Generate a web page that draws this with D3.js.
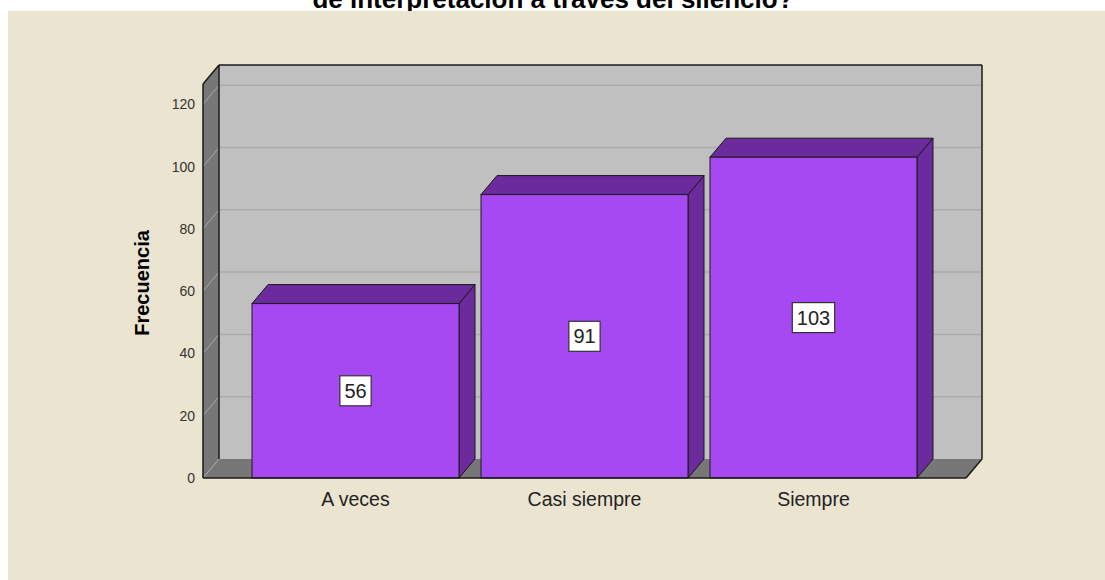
<!DOCTYPE html>
<html>
<head>
<meta charset="utf-8">
<script src="https://cdn.jsdelivr.net/npm/d3@7"></script>
<style>
  html, body { margin: 0; padding: 0; background: #ffffff; }
  svg { display: block; }
</style>
</head>
<body>
<svg id="chart" width="1105" height="580"></svg>
<script>
// Frequency chart: responses per category
const categories = ["A veces", "Casi siempre", "Siempre"];
const frequencies = [56, 91, 103];
const yTicks = [0, 20, 40, 60, 80, 100, 120];
const titleText = "de interpretación a través del silencio?";
const yAxisTitle = "Frecuencia";

(function () {
const svg = d3.select("#chart");
const W = 1105, H = 580;

// Pseudo-3D depth offset
const DX = 16, DY = -19;

// Plot frame (front plane)
const plotLeft = 203, plotRight = 966, plotBottom = 478, plotTop = 84;

const y = d3.scaleLinear().domain([0, 126.5]).range([plotBottom, plotTop]);
const x = d3.scaleBand().domain(categories).range([plotLeft, plotRight])
  .paddingInner(0.096).paddingOuter(0.214);

// Title (drawn above the panel)
svg.append("text")
  .attr("x", 553).attr("y", 8)
  .attr("text-anchor", "middle")
  .style("font-family", "'Liberation Sans', Arial, sans-serif")
  .style("font-weight", "bold")
  .style("font-size", "26px")
  .attr("fill", "#000")
  .text(titleText);

// Chart panel background
svg.append("rect")
  .attr("x", 8).attr("y", 11)
  .attr("width", W - 8).attr("height", H - 11)
  .attr("fill", "#EBE4D0");

const pts = a => a.map(p => p.join(",")).join(" ");
const yMax = y.domain()[1];
const L = plotLeft, R = plotRight;

// Back wall
svg.append("polygon")
  .attr("points", pts([[L + DX, y(yMax) + DY], [R + DX, y(yMax) + DY], [R + DX, y(0) + DY], [L + DX, y(0) + DY]]))
  .attr("fill", "#C0C0C0");

// Left side wall
svg.append("polygon")
  .attr("points", pts([[L, y(yMax)], [L + DX, y(yMax) + DY], [L + DX, y(0) + DY], [L, y(0)]]))
  .attr("fill", "#777777");

// Floor
svg.append("polygon")
  .attr("points", pts([[L, y(0)], [L + DX, y(0) + DY], [R + DX, y(0) + DY], [R, y(0)]]))
  .attr("fill", "#777777");

// Gridlines on back wall and side wall
const grid = svg.append("g");
yTicks.filter(v => v > 0).forEach(v => {
  grid.append("line")
    .attr("x1", L + DX).attr("x2", R + DX)
    .attr("y1", y(v) + DY).attr("y2", y(v) + DY)
    .attr("stroke", "#ABABAB").attr("stroke-width", 1.5);
});
yTicks.forEach(v => {
  grid.append("line")
    .attr("x1", L).attr("y1", y(v))
    .attr("x2", L + DX).attr("y2", y(v) + DY)
    .attr("stroke", "#A8A8A8").attr("stroke-width", 1);
});

// Frame edges
const edge = (x1, y1, x2, y2) => svg.append("line")
  .attr("x1", x1).attr("y1", y1).attr("x2", x2).attr("y2", y2)
  .attr("stroke", "#1a1a1a").attr("stroke-width", 1.5);
edge(L + DX, y(yMax) + DY, R + DX, y(yMax) + DY);
edge(R + DX, y(yMax) + DY, R + DX, y(0) + DY);
edge(L + DX, y(yMax) + DY, L + DX, y(0) + DY);
edge(L, y(yMax), L + DX, y(yMax) + DY);
edge(R, y(0), R + DX, y(0) + DY);

// Bars
const front = "#A749F2", dark = "#6B2B9C", outline = "#1a1a1a";
const bars = svg.append("g");
categories.forEach((c, i) => {
  const v = frequencies[i];
  const x0 = x(c), x1 = x(c) + x.bandwidth();
  const yt = y(v), yb = y(0);
  const g = bars.append("g");
  // side face
  g.append("polygon")
    .attr("points", pts([[x1, yt], [x1 + DX, yt + DY], [x1 + DX, yb + DY], [x1, yb]]))
    .attr("fill", dark).attr("stroke", outline).attr("stroke-width", 1).attr("stroke-linejoin", "round");
  // top face
  g.append("polygon")
    .attr("points", pts([[x0, yt], [x0 + DX, yt + DY], [x1 + DX, yt + DY], [x1, yt]]))
    .attr("fill", dark).attr("stroke", outline).attr("stroke-width", 1).attr("stroke-linejoin", "round");
  // front face
  g.append("rect")
    .attr("x", x0).attr("y", yt)
    .attr("width", x.bandwidth()).attr("height", yb - yt)
    .attr("fill", front).attr("stroke", outline).attr("stroke-width", 1);
});

// Front axis lines
edge(L, y(yMax), L, y(0));
edge(L, y(0), R, y(0));

// Y tick labels
const yAxis = d3.axisLeft(y).tickValues(yTicks).tickSize(0).tickPadding(8);
const ya = svg.append("g").attr("transform", `translate(${L},0)`).call(yAxis);
ya.select(".domain").remove();
ya.selectAll("text")
  .style("font-family", "'Liberation Sans', Arial, sans-serif")
  .style("font-size", "14px")
  .attr("fill", "#333");

// X category labels
const xAxis = d3.axisBottom(x).tickSize(0).tickPadding(14);
const xa = svg.append("g").attr("transform", `translate(0,${y(0)})`).call(xAxis);
xa.select(".domain").remove();
xa.selectAll("text")
  .style("font-family", "'Liberation Sans', Arial, sans-serif")
  .style("font-size", "19.5px")
  .attr("fill", "#222");

// Y axis title
svg.append("text")
  .attr("transform", "translate(149,283) rotate(-90)")
  .attr("text-anchor", "middle")
  .style("font-family", "'Liberation Sans', Arial, sans-serif")
  .style("font-weight", "bold")
  .style("font-size", "20px")
  .attr("fill", "#000")
  .text(yAxisTitle);

// Value labels in boxes
categories.forEach((c, i) => {
  const v = frequencies[i];
  const cx = x(c) + x.bandwidth() / 2;
  const cy = (y(v) + y(0)) / 2;
  const g = svg.append("g");
  const t = g.append("text")
    .attr("x", cx).attr("y", cy)
    .attr("text-anchor", "middle")
    .attr("dominant-baseline", "central")
    .style("font-family", "'Liberation Sans', Arial, sans-serif")
    .style("font-size", "20px")
    .attr("fill", "#222")
    .text(v);
  const bb = t.node().getBBox();
  g.insert("rect", "text")
    .attr("x", bb.x - 4.5).attr("y", cy - 15)
    .attr("width", bb.width + 9).attr("height", 30)
    .attr("fill", "#fff").attr("stroke", "#333").attr("stroke-width", 1.2);
});
})();
</script>
</body>
</html>
